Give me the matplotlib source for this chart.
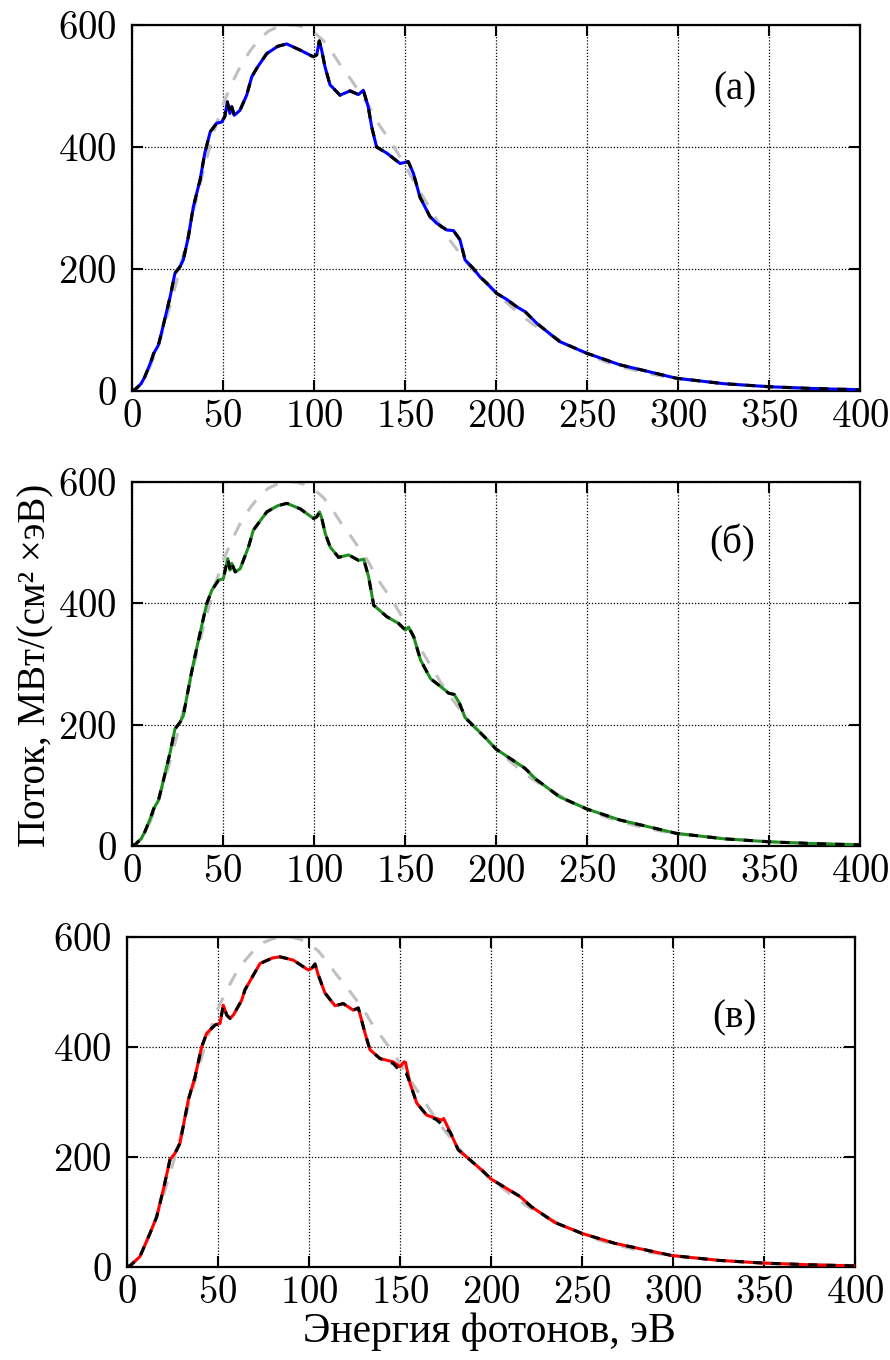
"""Three stacked flux spectra: calculated curves vs reference and blackbody envelope."""
import matplotlib
matplotlib.use('Agg')
import matplotlib.pyplot as plt

plt.rcParams['font.family'] = ['cmr10', 'Liberation Serif', 'DejaVu Serif']
plt.rcParams['axes.formatter.use_mathtext'] = True

# blackbody-like envelope (grey dashed), same in every panel
bb_e = [0, 5, 10, 15, 20, 25, 30, 35, 40, 45, 50, 55, 60, 65, 70, 75, 80, 85, 90,
        95, 100, 105, 110, 115, 120, 125, 130, 135, 140, 145, 150, 155, 160, 165,
        170, 175, 180, 185, 190, 200, 210, 220, 230, 240, 250, 260, 270, 280, 290,
        300, 320, 340, 360, 380, 400]
bb_f = [0, 12, 40, 80, 130, 185, 245, 310, 370, 425, 470, 505, 535, 558, 577, 590,
        597, 600, 600, 596, 588, 575, 555, 532, 512, 490, 468, 440, 418, 395, 370,
        343, 318, 293, 268, 246, 226, 206, 190, 160, 134, 110, 92, 75, 61, 48, 39,
        31, 25, 20, 14, 9, 6, 4, 2.5]

# panel (a)
a_e = [0, 2, 5, 7, 10, 12, 14.5, 17, 21, 23.6, 26.4, 28.2, 31, 33.7, 37.4, 40, 43,
       46.5, 49.3, 51, 52.4, 53.8, 54.8, 56.2, 59.3, 63, 65.8, 68.5, 74, 80, 85,
       92.3, 99.6, 101.5, 102.9, 104.2, 106, 108.8, 114.3, 119.8, 124.4, 127.1,
       129.8, 131.7, 134.4, 140, 147.3, 151.8, 154.6, 158.2, 163.7, 167.4, 172.9,
       176.6, 180.2, 183, 187.5, 191.2, 194.9, 200.4, 206, 211.4, 216, 222.4, 235,
       249.8, 268, 299, 325, 350, 375, 400]
a_f = [0, 3, 12, 23, 45, 62, 75, 105, 155, 193, 204, 215, 253, 302, 346, 390, 425,
       439, 441, 450, 474, 455, 466, 452, 460, 485, 515, 529, 553, 565, 569,
       559, 548, 551, 574, 559, 532, 502, 485, 492, 486, 493,
       466, 433, 400, 390, 373, 376, 357, 318, 286, 275, 264,
       263, 248, 215, 201, 187, 177, 160, 150, 138, 130, 111, 81,
       62, 43, 21, 12, 7, 4, 2]

# panel (б)
b_e = [0, 2, 5, 7, 10, 12, 14.5, 17, 21, 23.6, 26.4, 28.2, 31.9, 34, 37.4, 41.1,
       43.9, 47.5, 50.2, 52.6, 53.9, 54.8, 56.7, 59.4, 64, 66.7, 74.1, 80, 85.1,
       92.4, 99.8, 101.6, 103, 104.3, 106.2, 108.9, 113.5, 119, 124.5, 127.3, 130,
       132.8, 140.1, 146.5, 150.2, 152, 154.8, 158.5, 164, 170, 174, 177, 180, 183,
       188, 195, 200, 206, 211, 216, 222, 235, 250, 268, 299, 325, 350, 375, 400]
b_f = [0, 3, 12, 23, 45, 62, 75, 105, 155, 193, 204, 215, 274, 305, 351, 400,
       422, 438, 441, 474, 455, 466, 452, 457, 493, 521, 551, 561, 565,
       556, 540, 543, 551, 540, 515, 493, 476, 480, 471, 473, 444,
       397, 378, 367, 356, 361, 345, 307, 276, 262, 252, 250, 235, 212,
       197, 176, 160, 148, 138, 128, 110, 81, 61, 43, 21, 12, 7, 4, 2]

# panel (в), coloured curve
c_e = [0, 2, 7.1, 12.6, 16.3, 19.9, 23.6, 26.4, 29.1, 33.7, 37.4, 41, 43.8, 48.4,
       51.1, 52.9, 54.8, 56.6, 58.4, 63, 64.8, 73.1, 80, 84.1, 91.4, 99.6, 101.5,
       103.3, 105.1, 108.8, 114.3, 118.8, 124.3, 127.1, 130.8, 133.5, 139, 146.3,
       150, 152.2, 153, 155.5, 159.2, 164.7, 170, 172.9, 174, 176.6, 182, 188, 195,
       200, 206, 211, 216, 222, 235, 250, 268, 299, 325, 350, 375, 400]
c_f = [0, 3, 19, 61, 91, 140, 195, 207, 225, 304, 346, 400, 425, 440,
       443, 476, 458, 452, 458, 485, 504, 552, 562, 564, 558, 540, 543,
       551, 531, 498, 475, 479, 467, 471, 425, 395, 379, 373,
       364, 373, 372, 334, 298, 276, 270, 267, 270, 252, 213, 196, 176,
       160, 148, 138, 128, 110, 81, 61, 43, 21, 12, 7, 4, 2]

# panel (в), black reference curve
c_ref_e = [0, 2, 7.1, 12.6, 16.3, 19.9, 23.6, 26.4, 29.1, 33.7, 37.4, 41, 43.8, 48.4,
           51.1, 52.9, 54.8, 56.6, 58.4, 63, 64.8, 73.1, 80, 84.1, 91.4, 99.6, 101.5,
           103.3, 105.1, 108.8, 114.3, 118.8, 124.3, 127.1, 130.8, 133.5, 139, 146.3,
           149, 151.5, 153.5, 155.5, 159.2, 164.7, 170, 172, 174, 177.5, 182, 188, 195,
           200, 206, 211, 216, 222, 235, 250, 268, 299, 325, 350, 375, 400]
c_ref_f = [0, 3, 19, 61, 91, 140, 195, 207, 225, 304, 346, 400, 425, 440,
           443, 476, 458, 452, 458, 485, 504, 552, 562, 564, 558, 540, 543,
           551, 531, 498, 475, 479, 467, 471, 425, 395, 379, 370,
           360, 355, 352, 334, 298, 276, 268, 262, 254, 246, 213, 196, 176,
           160, 148, 138, 128, 110, 81, 61, 43, 21, 12, 7, 4, 2]

x_ticks = [0, 50, 100, 150, 200, 250, 300, 350, 400]
y_ticks = [0, 200, 400, 600]

fig = plt.figure(figsize=(8.9, 13.6), dpi=100)

panels = [
    ([0.1483, 0.7125, 0.818, 0.2691], a_e, a_f, a_e, a_f, '#0000ff', '(a)', (331, 493)),
    ([0.1483, 0.3779, 0.818, 0.2676], b_e, b_f, b_e, b_f, '#1f8f1f', '(б)', (330, 499)),
    ([0.1427, 0.0684, 0.818, 0.2426], c_e, c_f, c_ref_e, c_ref_f, '#ff0000', '(в)', (334, 453)),
]

for rect, e, f, re, rf, col, lab, lpos in panels:
    ax = fig.add_axes(rect)
    ax.plot(bb_e, bb_f, color='#c0c0c0', lw=2.2, dashes=(4.5, 4.5), zorder=2)
    ax.plot(e, f, color=col, lw=2.2, zorder=3)
    ax.plot(re, rf, color='black', lw=2.2, dashes=(3, 3), zorder=4)
    ax.set_xlim(0, 400)
    ax.set_ylim(0, 600)
    ax.set_xticks(x_ticks)
    ax.set_yticks(y_ticks)
    ax.grid(True, color='black', lw=0.9, linestyle=(0, (1, 1.5)), zorder=1)
    ax.tick_params(direction='in', top=True, right=True, length=8, width=1.5,
                   labelsize=28)
    ax.tick_params(axis='x', pad=6)
    ax.tick_params(axis='y', pad=11)
    for s in ax.spines.values():
        s.set_linewidth(1.6)
    ax.text(lpos[0], lpos[1], lab, fontsize=28, ha='center', va='center',
            family=['Liberation Serif', 'DejaVu Serif'])

fig.text(0.04, 0.511, 'Поток, МВт/(см² ×эВ)', rotation=90,
         ha='center', va='center', fontsize=28,
         family=['Liberation Serif', 'DejaVu Serif'])
fig.text(0.55, 0.021, 'Энергия фотонов, эВ', ha='center', va='center', fontsize=30,
         family=['Liberation Serif', 'DejaVu Serif'])

plt.savefig('out.png', dpi=100, facecolor='white')
plt.close()
print("OK: out.png")
